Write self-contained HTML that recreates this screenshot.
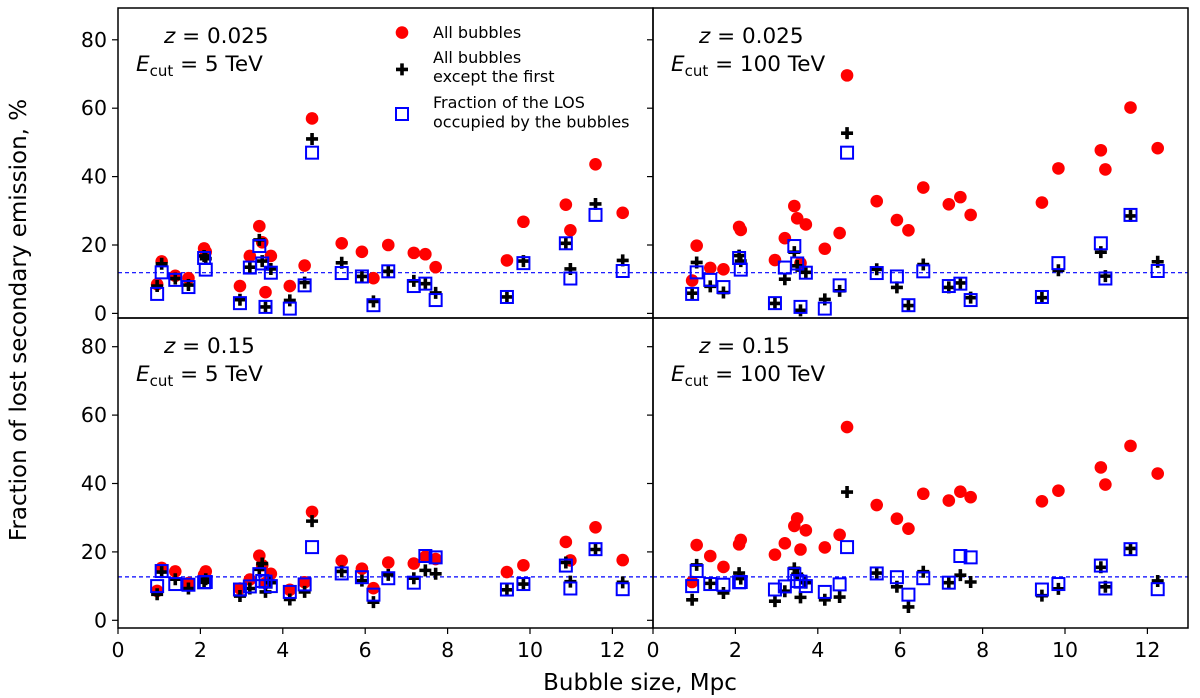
<!DOCTYPE html>
<html><head><meta charset="utf-8"><style>
body{margin:0;background:#fff}
svg{display:block;font-family:"DejaVu Sans","Liberation Sans",sans-serif}
</style></head><body>
<svg id="chart" width="1200" height="698" viewBox="0 0 1200 698" xmlns="http://www.w3.org/2000/svg"></svg>
<script>
const sizes=[0.95,1.06,1.39,1.71,2.09,2.13,2.96,3.20,3.43,3.50,3.58,3.71,4.17,4.53,4.71,5.43,5.92,6.20,6.56,7.18,7.46,7.71,9.44,9.84,10.87,10.98,11.59,12.25];
const losTop=[5.7,12,9.8,7.7,16.2,12.8,3,13.4,19.7,14.6,1.9,11.9,1.4,8.2,47,11.8,10.8,2.4,12.3,8,8.7,3.9,4.8,14.7,20.5,10.2,28.8,12.4];
const losBot=[10,14.4,10.6,10.4,11.1,11.2,9,9.9,13.5,11.5,11.3,10,8.3,10.5,21.4,13.7,12.6,7.5,12.3,11,18.8,18.4,9,10.6,16,9.3,20.8,9.1];
const allTL=[8.5,15.2,11,10.3,19,18,8,16.8,25.5,20.8,6.2,16.8,8,14,57,20.5,18,10.3,20,17.7,17.3,13.5,15.5,26.8,31.8,24.3,43.6,29.4];
const excTL=[8,14.5,10.2,8.3,16.8,16,4,13.5,21.5,15.3,1.9,13,3.8,9,51,14.8,10.8,3.5,12.3,9.5,8.7,6,4.8,15.3,20.5,13,32,15.5];
const allTR=[9.6,19.8,13.3,12.9,25.3,24.4,15.6,22,31.4,27.8,14.7,26,18.9,23.5,69.6,32.8,27.3,24.3,36.8,31.9,34,28.8,32.4,42.4,47.7,42.1,60.2,48.3];
const excTR=[5.9,14.9,7.9,6.1,16.9,15.3,2.9,10,17.9,13.9,0.9,12,4.1,6.6,52.7,12.9,7.6,2.3,14.3,7.6,8.9,4.6,4.6,12.6,17.9,10.9,28.5,15.1];
const allBL=[8.6,15.3,14.3,10.9,13.3,14.3,9.3,11.9,18.9,16.1,10.9,13.6,8.9,11.1,31.7,17.4,15.1,9.4,16.9,16.6,18.6,17.9,14.1,16.1,22.9,17.5,27.2,17.6];
const excBL=[7.6,14.1,12,9.3,11.1,12,7.1,9.3,14.9,16.6,8.3,11,6.1,8.3,29,14.3,11.6,5.3,13.3,12.3,14.6,13.6,8.9,10.6,16.9,11.3,20.7,11.1];
const allBR=[11.2,22,18.8,15.6,22.2,23.5,19.2,22.5,27.6,29.8,20.7,26.3,21.3,25,56.5,33.7,29.7,26.8,37,35,37.6,36,34.8,37.9,44.7,39.7,51,42.9];
const excBR=[6,16.2,10.8,8,13.8,12.2,5.6,8.5,15.2,13.5,6.7,11,6,6.8,37.5,13.8,9.8,3.9,14.2,11,13.2,11.2,7.2,9.2,15.5,9.8,21,11.5];
const xTicks=[0,2,4,6,8,10,12];
const yTicks=[0,20,40,60,80];
const refTop=11.9, refBot=12.7;

const NS="http://www.w3.org/2000/svg";
const svg=document.getElementById('chart');
function el(tag,attrs,parent){const e=document.createElementNS(NS,tag);for(const k in attrs)e.setAttribute(k,attrs[k]);(parent||svg).appendChild(e);return e;}
const panels=[
 {name:'top-left',x0:118,x1:653,y0:8,y1:318,zero:313.4,all:allTL,exc:excTL,los:losTop,ref:refTop,z:'0.025',e:'5',left:true,bottom:false,legend:true},
 {name:'top-right',x0:653,x1:1188,y0:8,y1:318,zero:313.4,all:allTR,exc:excTR,los:losTop,ref:refTop,z:'0.025',e:'100',left:false,bottom:false},
 {name:'bottom-left',x0:118,x1:653,y0:318,y1:628,zero:620.3,all:allBL,exc:excBL,los:losBot,ref:refBot,z:'0.15',e:'5',left:true,bottom:true},
 {name:'bottom-right',x0:653,x1:1188,y0:318,y1:628,zero:620.3,all:allBR,exc:excBR,los:losBot,ref:refBot,z:'0.15',e:'100',left:false,bottom:true}
];
const PXU=41.2, PYU=3.42;
function plus(g,cx,cy){const p=el('path',{d:`M${cx-6},${cy}H${cx+6}M${cx},${cy-6}V${cy+6}`,stroke:'#000','stroke-width':3.6},g);return p;}
panels.forEach(P=>{
  const g=el('g',{});
  
  
  const X=v=>P.x0+v*PXU, Y=v=>P.zero-v*PYU;
  const clip=el('clipPath',{id:'c-'+P.name},g);el('rect',{x:P.x0,y:P.y0,width:P.x1-P.x0,height:P.y1-P.y0},clip);
  const ref=el('line',{x1:P.x0,x2:P.x1,y1:Y(P.ref),y2:Y(P.ref),stroke:'#0000ff','stroke-width':1.2,'stroke-dasharray':'4,3'},g);
  
  
  const m=el('g',{'clip-path':'url(#c-'+P.name+')'},g);
  sizes.forEach((s,i)=>{
    const c=el('circle',{cx:X(s),cy:Y(P.all[i]),r:6.3,fill:'#ff0000'},m);
    
    
  });
  sizes.forEach((s,i)=>{
    const p=plus(m,X(s),Y(P.exc[i]));
    
    
  });
  sizes.forEach((s,i)=>{
    const r=el('rect',{x:X(s)-6,y:Y(P.los[i])-6,width:12,height:12,fill:'none',stroke:'#0000ff','stroke-width':2},m);
    
    
  });
  const fr=el('rect',{x:P.x0,y:P.y0,width:P.x1-P.x0,height:P.y1-P.y0,fill:'none',stroke:'#000','stroke-width':1.5},g);
  
  
  yTicks.forEach(t=>{
    el('line',{x1:P.x0-6,x2:P.x0,y1:Y(t),y2:Y(t),stroke:'#000','stroke-width':1.2},g);
    if(P.left){const tx=el('text',{x:P.x0-11,y:Y(t)+7,'font-size':20.5,'text-anchor':'end'},g);tx.textContent=t;
      
      }
  });
  if(P.bottom){xTicks.forEach(t=>{
    el('line',{x1:X(t),x2:X(t),y1:P.y1,y2:P.y1+6,stroke:'#000','stroke-width':1.2},g);
    const tx=el('text',{x:X(t),y:P.y1+29,'font-size':20.5,'text-anchor':'middle'},g);tx.textContent=t;
    
    
  });}
  const lz=el('text',{x:P.x0+46,y:P.y0+35,'font-size':21.5},g);
  lz.innerHTML='<tspan font-style="italic">z</tspan> = '+P.z;
  
  
  const le=el('text',{x:P.x0+18,y:P.y0+63,'font-size':21.5},g);
  le.innerHTML='<tspan font-style="italic">E</tspan><tspan font-size="15" dy="5">cut</tspan><tspan dy="-5"> = '+P.e+' TeV</tspan>';
  
  
  if(P.legend){
    const lg=el('g',{'font-size':16},g);
    
    
    el('circle',{cx:402,cy:32.6,r:6.3,fill:'#ff0000'},lg);
    let t=el('text',{x:433,y:38},lg);t.textContent='All bubbles';
    plus(lg,402,69.4);
    t=el('text',{x:433,y:63},lg);t.textContent='All bubbles';
    t=el('text',{x:433,y:82},lg);t.textContent='except the first';
    el('rect',{x:396,y:108,width:12,height:12,fill:'none',stroke:'#0000ff','stroke-width':2},lg);
    t=el('text',{x:433,y:108},lg);t.textContent='Fraction of the LOS';
    t=el('text',{x:433,y:127.5},lg);t.textContent='occupied by the bubbles';
  }
});
const xl=el('text',{x:640,y:690,'font-size':23,'text-anchor':'middle'});xl.textContent='Bubble size, Mpc';


const yl=el('text',{x:0,y:0,'font-size':23,'text-anchor':'middle',transform:'translate(26,320) rotate(-90)'});yl.textContent='Fraction of lost secondary emission, %';


</script>
</body></html>
